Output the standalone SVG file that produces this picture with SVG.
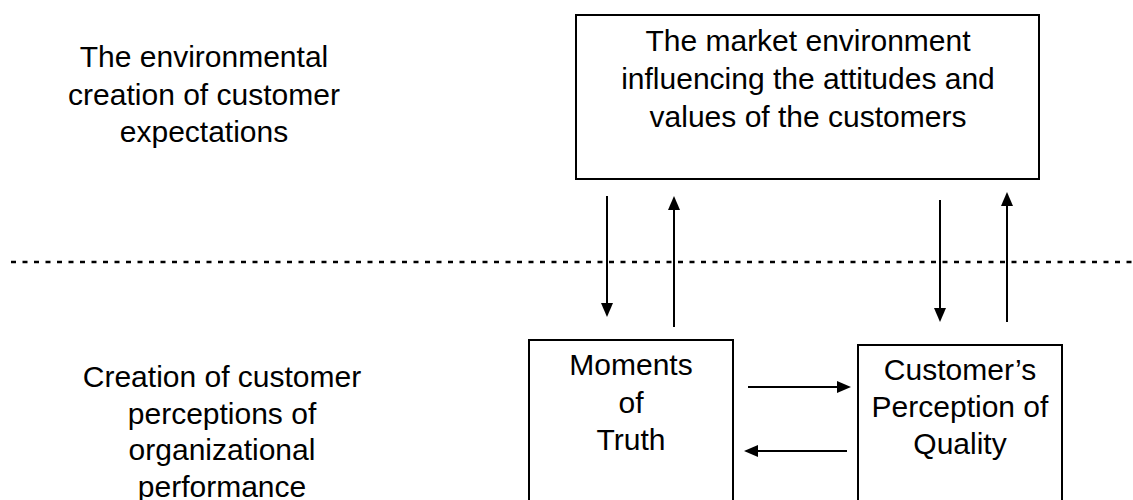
<svg xmlns="http://www.w3.org/2000/svg" width="1133" height="500" viewBox="0 0 1133 500">
  <style>
    .box { fill: #ffffff; stroke: #000000; stroke-width: 2; }
    .txt { font-family: "Liberation Sans", Arial, sans-serif; font-size: 30px; fill: #000000; text-anchor: middle; }
    .conn { stroke: #000000; stroke-width: 2; fill: none; marker-end: url(#arrow); }
    .dash { stroke: #000000; stroke-width: 2.5; stroke-dasharray: 5 6.5; fill: none; }
  </style>
  <defs>
    <marker id="arrow" markerUnits="userSpaceOnUse" markerWidth="14" markerHeight="12" refX="7" refY="6" orient="auto">
      <path d="M0,0 L14,6 L0,12 z" fill="#000000"/>
    </marker>
  </defs>
  <rect width="1133" height="500" fill="#ffffff"/>

  <g id="label-environment">
    <text class="txt" x="204" y="67">The environmental</text>
    <text class="txt" x="204" y="105">creation of customer</text>
    <text class="txt" x="204" y="142">expectations</text>
  </g>

  <g id="label-perceptions">
    <text class="txt" x="222" y="387">Creation of customer</text>
    <text class="txt" x="222" y="423.5">perceptions of</text>
    <text class="txt" x="222" y="460">organizational</text>
    <text class="txt" x="222" y="496.5">performance</text>
  </g>

  <g id="divider">
    <line class="dash" x1="11" y1="262" x2="1133" y2="262"/>
  </g>

  <g id="node-market">
    <rect class="box" x="576" y="15" width="463" height="164"/>
    <text class="txt" x="808" y="51">The market environment</text>
    <text class="txt" x="808" y="89">influencing the attitudes and</text>
    <text class="txt" x="808" y="127">values of the customers</text>
  </g>

  <g id="node-moments">
    <rect class="box" x="529" y="340" width="204" height="180"/>
    <text class="txt" x="631" y="375">Moments</text>
    <text class="txt" x="631" y="412.5">of</text>
    <text class="txt" x="631" y="450">Truth</text>
  </g>

  <g id="node-perception">
    <rect class="box" x="858" y="345" width="204" height="180"/>
    <text class="txt" x="960" y="380">Customer’s</text>
    <text class="txt" x="960" y="417">Perception of</text>
    <text class="txt" x="960" y="454">Quality</text>
  </g>

  <g id="connectors">
    <line class="conn" x1="607" y1="196" x2="607" y2="310"/>
    <line class="conn" x1="674" y1="327" x2="674" y2="203"/>
    <line class="conn" x1="940" y1="200" x2="940" y2="315"/>
    <line class="conn" x1="1007" y1="322" x2="1007" y2="199"/>
    <line class="conn" x1="748" y1="387" x2="844" y2="387"/>
    <line class="conn" x1="847" y1="451" x2="751" y2="451"/>
  </g>
</svg>
